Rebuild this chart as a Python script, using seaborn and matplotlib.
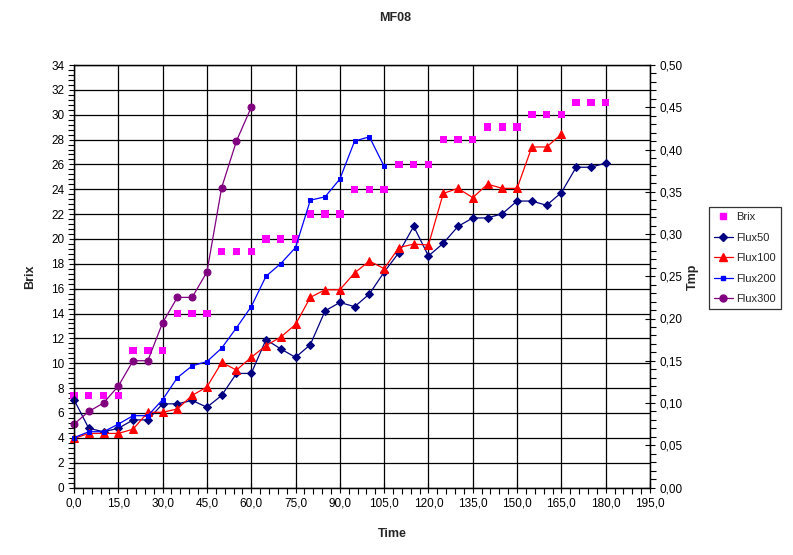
import numpy as np
import pandas as pd
import seaborn as sns
import matplotlib.pyplot as plt
from matplotlib.ticker import MultipleLocator, FuncFormatter
from matplotlib.lines import Line2D

# data
time = [0, 5, 10, 15, 20, 25, 30, 35, 40, 45, 50, 55, 60, 65, 70, 75, 80, 85, 90,
        95, 100, 105, 110, 115, 120, 125, 130, 135, 140, 145, 150, 155, 160, 165,
        170, 175, 180]

brix = [7.4, 7.4, 7.4, 7.4, 11.0, 11.0, 11.0, 14.0, 14.0, 14.0, 19.0, 19.0, 19.0,
        20.0, 20.0, 20.0, 22.0, 22.0, 22.0, 24.0, 24.0, 24.0, 26.0, 26.0, 26.0,
        28.0, 28.0, 28.0, 29.0, 29.0, 29.0, 30.0, 30.0, 30.0, 31.0, 31.0, 31.0]

flux50 = [0.104, 0.070, 0.066, 0.070, 0.080, 0.080, 0.099, 0.099, 0.103, 0.095,
          0.109, 0.135, 0.135, 0.175, 0.164, 0.154, 0.169, 0.209, 0.219, 0.214,
          0.229, 0.255, 0.278, 0.309, 0.274, 0.289, 0.309, 0.319, 0.319, 0.324,
          0.339, 0.339, 0.334, 0.349, 0.379, 0.379, 0.384]

flux100 = [0.058, 0.064, 0.064, 0.064, 0.069, 0.089, 0.089, 0.093, 0.109, 0.119,
           0.148, 0.139, 0.154, 0.168, 0.178, 0.193, 0.225, 0.234, 0.234, 0.254,
           0.268, 0.259, 0.284, 0.288, 0.287, 0.348, 0.354, 0.343, 0.359, 0.354,
           0.354, 0.403, 0.403, 0.418]

flux200 = [0.059, 0.066, 0.066, 0.075, 0.085, 0.085, 0.104, 0.130, 0.144, 0.149,
           0.165, 0.189, 0.214, 0.250, 0.265, 0.284, 0.340, 0.344, 0.365, 0.410,
           0.415, 0.380]

flux300 = [0.075, 0.090, 0.100, 0.120, 0.150, 0.150, 0.195, 0.225, 0.225, 0.255,
           0.355, 0.410, 0.450]

series = {
    "Flux50": (flux50, "#000080", "D", 4.5),
    "Flux100": (flux100, "#FF0000", "^", 5.5),
    "Flux200": (flux200, "#0000FF", "s", 3),
    "Flux300": (flux300, "#800080", "o", 5),
}

sns.set_style("white")
plt.rcParams["font.family"] = ["Liberation Sans", "DejaVu Sans"]

fig = plt.figure(figsize=(7.93, 5.55), dpi=100)
ax = fig.add_axes([74 / 793, 1 - 487.5 / 555, 576 / 793, 422.5 / 555])
ax2 = ax.twinx()

# Brix on the left axis
sns.scatterplot(x=time, y=brix, ax=ax, marker="s", color="#FF00FF", s=28,
                edgecolor="none", clip_on=False, zorder=3)

# flux series on the right axis
for name, (vals, col, mk, ms) in series.items():
    sns.lineplot(x=time[:len(vals)], y=vals, ax=ax2, color=col, marker=mk,
                 markersize=ms, markeredgecolor=col, linewidth=0.9,
                 clip_on=False)

ax.set_xlim(0, 195)
ax.set_ylim(0, 34)
ax2.set_ylim(0, 0.5)

ax.xaxis.set_major_locator(MultipleLocator(15))
ax.xaxis.set_minor_locator(MultipleLocator(3))
ax.yaxis.set_major_locator(MultipleLocator(2))
ax.yaxis.set_minor_locator(MultipleLocator(0.4))
ax2.yaxis.set_major_locator(MultipleLocator(0.05))
ax2.yaxis.set_minor_locator(MultipleLocator(0.01))

ax.xaxis.set_major_formatter(FuncFormatter(lambda v, p: f"{v:.1f}".replace(".", ",")))
ax.yaxis.set_major_formatter(FuncFormatter(lambda v, p: f"{v:.0f}"))
ax2.yaxis.set_major_formatter(FuncFormatter(lambda v, p: f"{v:.2f}".replace(".", ",")))

ax.grid(True, which="major", color="black", linewidth=0.9)
ax.set_axisbelow(True)
for a in (ax, ax2):
    for sp in a.spines.values():
        sp.set_color("black")
        sp.set_linewidth(0.9)
    a.tick_params(which="major", direction="inout", length=7, width=0.8,
                  labelsize=8.5, colors="black")
    a.tick_params(which="minor", direction="out", length=4, width=0.8,
                  colors="black")
ax.tick_params(axis="both", which="both", left=True, bottom=True)
ax2.tick_params(axis="y", which="both", right=True)
ax.set_xlabel("")
ax.set_ylabel("")
ax2.set_ylabel("")

fig.text(395 / 793, 1 - 18 / 555, "MF08", ha="center", va="center",
         fontsize=9, fontweight="bold")
fig.text(392 / 793, 1 - 534 / 555, "Time", ha="center", va="center",
         fontsize=9, fontweight="bold")
fig.text(30 / 793, 1 - 277 / 555, "Brix", ha="center", va="center",
         fontsize=9, fontweight="bold", rotation=90)
fig.text(693 / 793, 1 - 277 / 555, "Tmp", ha="center", va="center",
         fontsize=9, fontweight="bold", rotation=90)

handles = [Line2D([], [], linestyle="none", marker="s", color="#FF00FF",
                  markersize=4.5, label="Brix")]
for name, (vals, col, mk, ms) in series.items():
    handles.append(Line2D([], [], color=col, marker=mk, markersize=ms,
                          linewidth=0.9, label=name))
leg = fig.legend(handles=handles, loc="upper left",
                 bbox_to_anchor=(709 / 793, 1 - 207 / 555), fontsize=8,
                 frameon=True, fancybox=False, edgecolor="black",
                 handlelength=1.7, borderpad=0.45, labelspacing=0.95,
                 handletextpad=0.3, borderaxespad=0)
leg.get_frame().set_linewidth(0.9)

fig.savefig("out.png", dpi=100)
